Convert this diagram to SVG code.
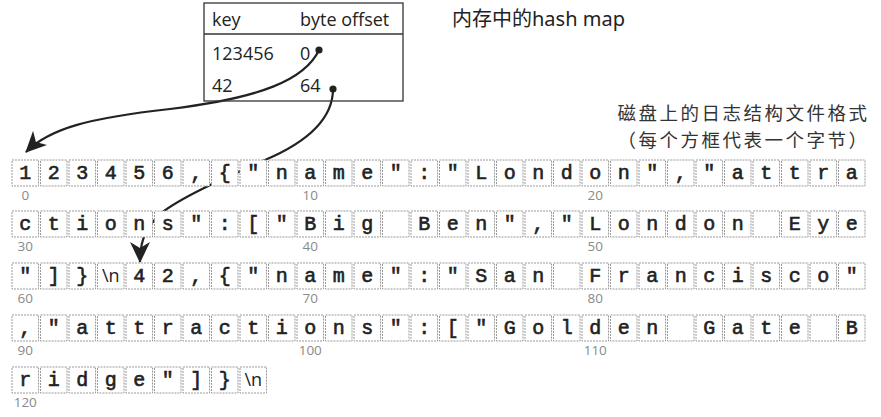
<svg xmlns="http://www.w3.org/2000/svg" xmlns:xlink="http://www.w3.org/1999/xlink" width="881" height="417" viewBox="0 0 881 417">
<style>
.tb{font-family:"Open Sans","Noto Sans",sans-serif;font-size:18px;fill:#222}
.ttl{font-family:"Noto Sans","Noto Sans CJK SC",sans-serif;font-size:20px;fill:#222}
.cap{font-family:"Noto Sans CJK SC","Noto Sans",sans-serif;font-size:18.5px;letter-spacing:2.5px;fill:#333}
.c{font-family:"Liberation Mono","Courier New",monospace;font-size:20px;fill:#222;stroke:#222;stroke-width:0.6;text-anchor:middle}
.nl{font-family:"Open Sans","Noto Sans",sans-serif;font-size:18px;fill:#222;text-anchor:middle}
.lb{font-family:"Open Sans","Noto Sans",sans-serif;font-size:13.5px;fill:#8a8a8a;text-anchor:middle}
.cn{fill:none;stroke:#222;stroke-width:2.2}
</style>
<defs>
<rect id="bx" width="26.5" height="26" fill="#fff" stroke="#9a9a9a" stroke-width="1" stroke-dasharray="2 1"/>
<marker id="ah" markerUnits="userSpaceOnUse" markerWidth="22" markerHeight="20" viewBox="0 0 22 20" refX="20" refY="10" orient="auto">
<path d="M0,0 L21,10 L0,20 L6,10 z" fill="#222"/>
</marker>
</defs>
<rect width="881" height="417" fill="#fff"/>

<g id="connectors">
<path class="cn" d="M319,50 C305,80 260,98 170,109 C90,118 50,128 26,152" marker-end="url(#ah)"/>
<path class="cn" d="M333,89 C333,120 305,143 265,160 C220,180 180,198 160,214 C146,228 140,240 140,262" marker-end="url(#ah)"/>
</g>

<g id="hashmap">
<rect x="204" y="3" width="199" height="98" fill="none" stroke="#333" stroke-width="1.3"/>
<line x1="204" y1="34" x2="403" y2="34" stroke="#333" stroke-width="1.3"/>
<text class="tb" x="212" y="26">key</text>
<text class="tb" x="300" y="26">byte offset</text>
<text class="tb" x="212" y="60">123456</text>
<text class="tb" x="300" y="60">0</text>
<text class="tb" x="212" y="92">42</text>
<text class="tb" x="300" y="92">64</text>
<circle cx="319" cy="50" r="3.6" fill="#222"/>
<circle cx="333" cy="89" r="3.6" fill="#222"/>
</g>

<g id="title"><text class="ttl" x="452" y="26">内存中的hash map</text></g>
<g id="caption">
<text class="cap" x="869.5" y="120" text-anchor="end">磁盘上的日志结构文件格式</text>
<text class="cap" x="869.5" y="147" text-anchor="end">（每个方框代表一个字节）</text>
</g>

<g id="row1" transform="translate(0,160)">
<use xlink:href="#bx" x="12"/><use xlink:href="#bx" x="40.5"/><use xlink:href="#bx" x="69"/><use xlink:href="#bx" x="97.5"/><use xlink:href="#bx" x="126"/><use xlink:href="#bx" x="154.5"/><use xlink:href="#bx" x="183"/><use xlink:href="#bx" x="211.5"/><use xlink:href="#bx" x="240"/><use xlink:href="#bx" x="268.5"/><use xlink:href="#bx" x="297"/><use xlink:href="#bx" x="325.5"/><use xlink:href="#bx" x="354"/><use xlink:href="#bx" x="382.5"/><use xlink:href="#bx" x="411"/><use xlink:href="#bx" x="439.5"/><use xlink:href="#bx" x="468"/><use xlink:href="#bx" x="496.5"/><use xlink:href="#bx" x="525"/><use xlink:href="#bx" x="553.5"/><use xlink:href="#bx" x="582"/><use xlink:href="#bx" x="610.5"/><use xlink:href="#bx" x="639"/><use xlink:href="#bx" x="667.5"/><use xlink:href="#bx" x="696"/><use xlink:href="#bx" x="724.5"/><use xlink:href="#bx" x="753"/><use xlink:href="#bx" x="781.5"/><use xlink:href="#bx" x="810"/><use xlink:href="#bx" x="838.5"/>
<text class="c" y="18.5"><tspan x="25.25">1</tspan><tspan x="53.75">2</tspan><tspan x="82.25">3</tspan><tspan x="110.75">4</tspan><tspan x="139.25">5</tspan><tspan x="167.75">6</tspan><tspan x="196.25">,</tspan><tspan x="224.75">{</tspan><tspan x="253.25">"</tspan><tspan x="281.75">n</tspan><tspan x="310.25">a</tspan><tspan x="338.75">m</tspan><tspan x="367.25">e</tspan><tspan x="395.75">"</tspan><tspan x="424.25">:</tspan><tspan x="452.75">"</tspan><tspan x="481.25">L</tspan><tspan x="509.75">o</tspan><tspan x="538.25">n</tspan><tspan x="566.75">d</tspan><tspan x="595.25">o</tspan><tspan x="623.75">n</tspan><tspan x="652.25">"</tspan><tspan x="680.75">,</tspan><tspan x="709.25">"</tspan><tspan x="737.75">a</tspan><tspan x="766.25">t</tspan><tspan x="794.75">t</tspan><tspan x="823.25">r</tspan><tspan x="851.75">a</tspan></text>
<text class="lb" y="40"><tspan x="25.25">0</tspan><tspan x="310.25">10</tspan><tspan x="595.25">20</tspan></text>
</g>

<g id="row2" transform="translate(0,211)">
<use xlink:href="#bx" x="12"/><use xlink:href="#bx" x="40.5"/><use xlink:href="#bx" x="69"/><use xlink:href="#bx" x="97.5"/><use xlink:href="#bx" x="126"/><use xlink:href="#bx" x="154.5"/><use xlink:href="#bx" x="183"/><use xlink:href="#bx" x="211.5"/><use xlink:href="#bx" x="240"/><use xlink:href="#bx" x="268.5"/><use xlink:href="#bx" x="297"/><use xlink:href="#bx" x="325.5"/><use xlink:href="#bx" x="354"/><use xlink:href="#bx" x="382.5"/><use xlink:href="#bx" x="411"/><use xlink:href="#bx" x="439.5"/><use xlink:href="#bx" x="468"/><use xlink:href="#bx" x="496.5"/><use xlink:href="#bx" x="525"/><use xlink:href="#bx" x="553.5"/><use xlink:href="#bx" x="582"/><use xlink:href="#bx" x="610.5"/><use xlink:href="#bx" x="639"/><use xlink:href="#bx" x="667.5"/><use xlink:href="#bx" x="696"/><use xlink:href="#bx" x="724.5"/><use xlink:href="#bx" x="753"/><use xlink:href="#bx" x="781.5"/><use xlink:href="#bx" x="810"/><use xlink:href="#bx" x="838.5"/>
<text class="c" y="18.5"><tspan x="25.25">c</tspan><tspan x="53.75">t</tspan><tspan x="82.25">i</tspan><tspan x="110.75">o</tspan><tspan x="139.25">n</tspan><tspan x="167.75">s</tspan><tspan x="196.25">"</tspan><tspan x="224.75">:</tspan><tspan x="253.25">[</tspan><tspan x="281.75">"</tspan><tspan x="310.25">B</tspan><tspan x="338.75">i</tspan><tspan x="367.25">g</tspan><tspan x="424.25">B</tspan><tspan x="452.75">e</tspan><tspan x="481.25">n</tspan><tspan x="509.75">"</tspan><tspan x="538.25">,</tspan><tspan x="566.75">"</tspan><tspan x="595.25">L</tspan><tspan x="623.75">o</tspan><tspan x="652.25">n</tspan><tspan x="680.75">d</tspan><tspan x="709.25">o</tspan><tspan x="737.75">n</tspan><tspan x="794.75">E</tspan><tspan x="823.25">y</tspan><tspan x="851.75">e</tspan></text>
<text class="lb" y="40"><tspan x="25.25">30</tspan><tspan x="310.25">40</tspan><tspan x="595.25">50</tspan></text>
</g>

<g id="row3" transform="translate(0,263)">
<use xlink:href="#bx" x="12"/><use xlink:href="#bx" x="40.5"/><use xlink:href="#bx" x="69"/><use xlink:href="#bx" x="97.5"/><use xlink:href="#bx" x="126"/><use xlink:href="#bx" x="154.5"/><use xlink:href="#bx" x="183"/><use xlink:href="#bx" x="211.5"/><use xlink:href="#bx" x="240"/><use xlink:href="#bx" x="268.5"/><use xlink:href="#bx" x="297"/><use xlink:href="#bx" x="325.5"/><use xlink:href="#bx" x="354"/><use xlink:href="#bx" x="382.5"/><use xlink:href="#bx" x="411"/><use xlink:href="#bx" x="439.5"/><use xlink:href="#bx" x="468"/><use xlink:href="#bx" x="496.5"/><use xlink:href="#bx" x="525"/><use xlink:href="#bx" x="553.5"/><use xlink:href="#bx" x="582"/><use xlink:href="#bx" x="610.5"/><use xlink:href="#bx" x="639"/><use xlink:href="#bx" x="667.5"/><use xlink:href="#bx" x="696"/><use xlink:href="#bx" x="724.5"/><use xlink:href="#bx" x="753"/><use xlink:href="#bx" x="781.5"/><use xlink:href="#bx" x="810"/><use xlink:href="#bx" x="838.5"/>
<text class="c" y="18.5"><tspan x="25.25">"</tspan><tspan x="53.75">]</tspan><tspan x="82.25">}</tspan><tspan x="139.25">4</tspan><tspan x="167.75">2</tspan><tspan x="196.25">,</tspan><tspan x="224.75">{</tspan><tspan x="253.25">"</tspan><tspan x="281.75">n</tspan><tspan x="310.25">a</tspan><tspan x="338.75">m</tspan><tspan x="367.25">e</tspan><tspan x="395.75">"</tspan><tspan x="424.25">:</tspan><tspan x="452.75">"</tspan><tspan x="481.25">S</tspan><tspan x="509.75">a</tspan><tspan x="538.25">n</tspan><tspan x="595.25">F</tspan><tspan x="623.75">r</tspan><tspan x="652.25">a</tspan><tspan x="680.75">n</tspan><tspan x="709.25">c</tspan><tspan x="737.75">i</tspan><tspan x="766.25">s</tspan><tspan x="794.75">c</tspan><tspan x="823.25">o</tspan><tspan x="851.75">"</tspan></text>
<text class="nl" x="110.75" y="19">\n</text>
<text class="lb" y="40"><tspan x="25.25">60</tspan><tspan x="310.25">70</tspan><tspan x="595.25">80</tspan></text>
</g>

<g id="row4" transform="translate(0,315)">
<use xlink:href="#bx" x="12"/><use xlink:href="#bx" x="40.5"/><use xlink:href="#bx" x="69"/><use xlink:href="#bx" x="97.5"/><use xlink:href="#bx" x="126"/><use xlink:href="#bx" x="154.5"/><use xlink:href="#bx" x="183"/><use xlink:href="#bx" x="211.5"/><use xlink:href="#bx" x="240"/><use xlink:href="#bx" x="268.5"/><use xlink:href="#bx" x="297"/><use xlink:href="#bx" x="325.5"/><use xlink:href="#bx" x="354"/><use xlink:href="#bx" x="382.5"/><use xlink:href="#bx" x="411"/><use xlink:href="#bx" x="439.5"/><use xlink:href="#bx" x="468"/><use xlink:href="#bx" x="496.5"/><use xlink:href="#bx" x="525"/><use xlink:href="#bx" x="553.5"/><use xlink:href="#bx" x="582"/><use xlink:href="#bx" x="610.5"/><use xlink:href="#bx" x="639"/><use xlink:href="#bx" x="667.5"/><use xlink:href="#bx" x="696"/><use xlink:href="#bx" x="724.5"/><use xlink:href="#bx" x="753"/><use xlink:href="#bx" x="781.5"/><use xlink:href="#bx" x="810"/><use xlink:href="#bx" x="838.5"/>
<text class="c" y="18.5"><tspan x="25.25">,</tspan><tspan x="53.75">"</tspan><tspan x="82.25">a</tspan><tspan x="110.75">t</tspan><tspan x="139.25">t</tspan><tspan x="167.75">r</tspan><tspan x="196.25">a</tspan><tspan x="224.75">c</tspan><tspan x="253.25">t</tspan><tspan x="281.75">i</tspan><tspan x="310.25">o</tspan><tspan x="338.75">n</tspan><tspan x="367.25">s</tspan><tspan x="395.75">"</tspan><tspan x="424.25">:</tspan><tspan x="452.75">[</tspan><tspan x="481.25">"</tspan><tspan x="509.75">G</tspan><tspan x="538.25">o</tspan><tspan x="566.75">l</tspan><tspan x="595.25">d</tspan><tspan x="623.75">e</tspan><tspan x="652.25">n</tspan><tspan x="709.25">G</tspan><tspan x="737.75">a</tspan><tspan x="766.25">t</tspan><tspan x="794.75">e</tspan><tspan x="851.75">B</tspan></text>
<text class="lb" y="40"><tspan x="25.25">90</tspan><tspan x="310.25">100</tspan><tspan x="595.25">110</tspan></text>
</g>

<g id="row5" transform="translate(0,367)">
<use xlink:href="#bx" x="12"/><use xlink:href="#bx" x="40.5"/><use xlink:href="#bx" x="69"/><use xlink:href="#bx" x="97.5"/><use xlink:href="#bx" x="126"/><use xlink:href="#bx" x="154.5"/><use xlink:href="#bx" x="183"/><use xlink:href="#bx" x="211.5"/><use xlink:href="#bx" x="240"/>
<text class="c" y="18.5"><tspan x="25.25">r</tspan><tspan x="53.75">i</tspan><tspan x="82.25">d</tspan><tspan x="110.75">g</tspan><tspan x="139.25">e</tspan><tspan x="167.75">"</tspan><tspan x="196.25">]</tspan><tspan x="224.75">}</tspan></text>
<text class="nl" x="253.25" y="19">\n</text>
<text class="lb" y="40"><tspan x="25.25">120</tspan></text>
</g>
</svg>
